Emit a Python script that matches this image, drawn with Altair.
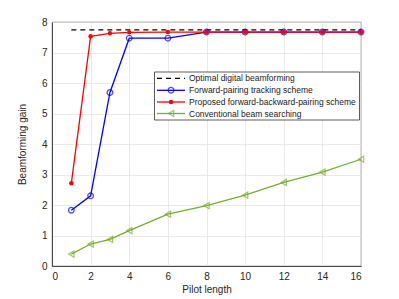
import altair as alt
import pandas as pd

pilot = [1, 2, 3, 4, 6, 8, 10, 12, 14, 16]
optimal = [7.74] * 10
forward = [1.83, 2.30, 5.69, 7.47, 7.47, 7.67, 7.67, 7.67, 7.67, 7.67]
proposed = [2.71, 7.53, 7.63, 7.66, 7.67, 7.67, 7.67, 7.67, 7.67, 7.67]
conventional = [0.39, 0.72, 0.87, 1.16, 1.70, 1.98, 2.32, 2.74, 3.08, 3.50]

names = ["Optimal digital beamforming", "Forward-pairing tracking scheme",
         "Proposed forward-backward-pairing scheme", "Conventional beam searching"]
colors = ["#000000", "#0000FF", "#FF0000", "#77AC30"]

df = pd.DataFrame({"x": pilot, "opt": optimal, "fwd": forward,
                   "prop": proposed, "conv": conventional})

xs = alt.Scale(domain=[0, 16], nice=False)
ys = alt.Scale(domain=[0, 8], nice=False)
xax = alt.Axis(values=list(range(0, 17, 2)), title="Pilot length", grid=True, labelOverlap=False)
yax = alt.Axis(values=list(range(0, 9)), title="Beamforming gain", grid=True, labelOverlap=False)

base = alt.Chart(df)

def X():
    return alt.X("x:Q", scale=xs, axis=xax)

def Y(f):
    return alt.Y(f + ":Q", scale=ys, axis=yax)

opt_line = base.mark_line(color=colors[0], strokeDash=[5, 4], strokeWidth=1.3).encode(x=X(), y=Y("opt"))

fwd_line = base.mark_line(color=colors[1], strokeWidth=1.3).encode(x=X(), y=Y("fwd"))
fwd_pt = base.mark_point(color=colors[1], shape="circle", size=32, strokeWidth=1.3, filled=False).encode(
    x=X(), y=Y("fwd"))

conv_line = base.mark_line(color=colors[3], strokeWidth=1.3).encode(x=X(), y=Y("conv"))
conv_pt = base.mark_point(color=colors[3], shape="triangle-left", size=38, strokeWidth=1.2, filled=False).encode(
    x=X(), y=Y("conv"))

prop_line = base.mark_line(color=colors[2], strokeWidth=1.3).encode(x=X(), y=Y("prop"))
prop_pt = base.mark_point(color=colors[2], shape="circle", size=20, filled=True, opacity=1).encode(
    x=X(), y=Y("prop"))

# legend (manual)
leg_df = pd.DataFrame({"name": names})
box = alt.Chart(leg_df.head(1)).mark_rect(fill="white", stroke="#333333", strokeWidth=0.8).encode(
    x=alt.value(102.5), x2=alt.value(307.5), y=alt.value(50), y2=alt.value(98))

rows = [56.3, 68.3, 80.0, 91.5]
leg_layers = [box]
for i, nm in enumerate(names):
    d = alt.Chart(pd.DataFrame({"name": [nm]}))
    kw = dict(color=colors[i], strokeWidth=1.3)
    if i == 0:
        kw["strokeDash"] = [5, 4]
    leg_layers.append(d.mark_rule(**kw).encode(
        x=alt.value(105), x2=alt.value(133), y=alt.value(rows[i])))
    if i == 1:
        leg_layers.append(d.mark_point(color=colors[1], shape="circle", size=32, strokeWidth=1.3).encode(
            x=alt.value(119), y=alt.value(rows[i])))
    if i == 2:
        leg_layers.append(d.mark_point(color=colors[2], shape="circle", size=20, filled=True, opacity=1).encode(
            x=alt.value(119), y=alt.value(rows[i])))
    if i == 3:
        leg_layers.append(d.mark_point(color=colors[3], shape="triangle-left", size=38, strokeWidth=1.2).encode(
            x=alt.value(119), y=alt.value(rows[i])))
    leg_layers.append(d.mark_text(align="left", baseline="middle", fontSize=8.5, font="Arial",
                                  color="#1a1a1a").encode(
        x=alt.value(137), y=alt.value(rows[i]), text="name:N"))

chart = alt.layer(opt_line, conv_line, conv_pt, fwd_line, fwd_pt, prop_line, prop_pt, *leg_layers).properties(
    width=309, height=244,
    autosize=alt.AutoSizeParams(type="none"),
    padding={"left": 44, "top": 14, "right": 30, "bottom": 36},
).configure_view(stroke="#262626", strokeWidth=0.8).configure_axis(
    labelFont="Arial", titleFont="Arial",
    labelFontSize=10, titleFontSize=10, titleFontWeight="normal",
    labelColor="#262626", titleColor="#262626",
    gridColor="#e3e3e3", gridWidth=0.8,
    domainColor="#262626", domainWidth=0.8,
    ticks=False, labelPadding=5,
).configure_axisX(titlePadding=3).configure_axisY(titlePadding=14)

chart.save("out.html", embed_options={"renderer": "svg", "actions": False})
